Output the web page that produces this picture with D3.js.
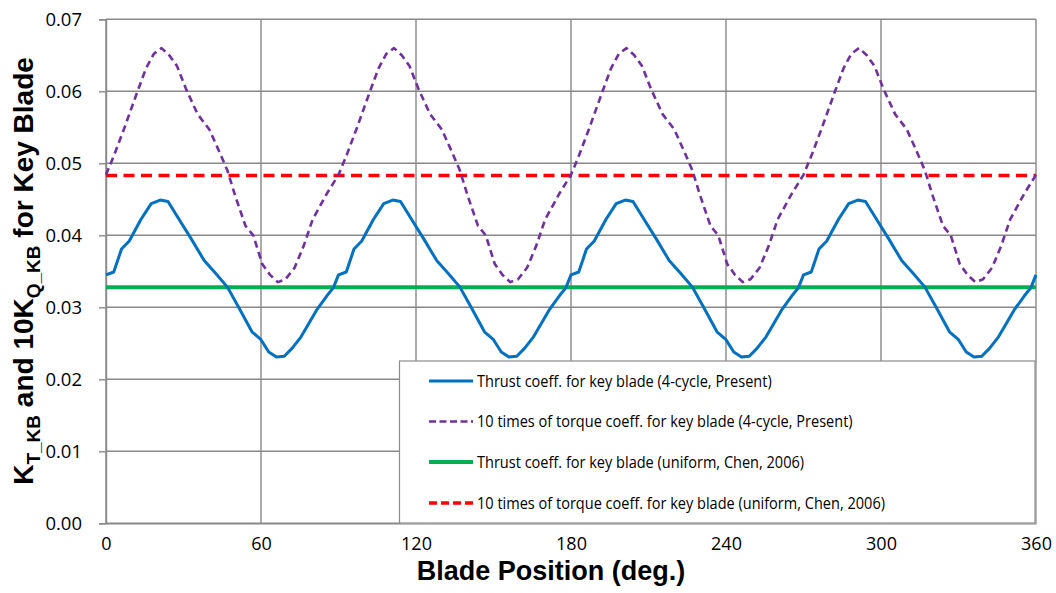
<!DOCTYPE html>
<html>
<head>
<meta charset="utf-8">
<script src="https://cdn.jsdelivr.net/npm/d3@7"></script>
<style>
  html, body { margin: 0; padding: 0; background: #fff; }
  svg { display: block; }
</style>
</head>
<body>
<svg id="chart" width="1056" height="593"></svg>
<script>
// Blade position (deg.) and thrust coefficient of the key blade, 4-cycle wake (present)
const thrustDeg = [
  0, 3, 6, 9, 13.5, 17.5, 21, 24, 28.5, 33, 38, 42.5, 47, 51.5, 56.5, 60, 63, 66, 69, 72, 75.5, 81.5, 85.5, 88,
  90, 93, 96, 99, 103.5, 107.5, 111, 114, 118.5, 123, 128, 132.5, 137, 141.5, 146.5, 150, 153, 156, 159, 162, 165.5, 171.5, 175.5, 178,
  180, 183, 186, 189, 193.5, 197.5, 201, 204, 208.5, 213, 218, 222.5, 227, 231.5, 236.5, 240, 243, 246, 249, 252, 255.5, 261.5, 265.5, 268,
  270, 273, 276, 279, 283.5, 287.5, 291, 294, 298.5, 303, 308, 312.5, 317, 321.5, 326.5, 330, 333, 336, 339, 342, 345.5, 351.5, 355.5, 358,
  360
];
const thrustKT = [
  0.0345, 0.0349, 0.0381, 0.0392, 0.0422, 0.0444, 0.0449, 0.0447, 0.0421, 0.0395, 0.0365, 0.0347, 0.0328, 0.0299, 0.0266, 0.0255, 0.0238, 0.0231, 0.0232, 0.0243, 0.0259, 0.0296, 0.0316, 0.0327,
  0.0345, 0.0349, 0.0381, 0.0392, 0.0422, 0.0444, 0.0449, 0.0447, 0.0421, 0.0395, 0.0365, 0.0347, 0.0328, 0.0299, 0.0266, 0.0255, 0.0238, 0.0231, 0.0232, 0.0243, 0.0259, 0.0296, 0.0316, 0.0327,
  0.0345, 0.0349, 0.0381, 0.0392, 0.0422, 0.0444, 0.0449, 0.0447, 0.0421, 0.0395, 0.0365, 0.0347, 0.0328, 0.0299, 0.0266, 0.0255, 0.0238, 0.0231, 0.0232, 0.0243, 0.0259, 0.0296, 0.0316, 0.0327,
  0.0345, 0.0349, 0.0381, 0.0392, 0.0422, 0.0444, 0.0449, 0.0447, 0.0421, 0.0395, 0.0365, 0.0347, 0.0328, 0.0299, 0.0266, 0.0255, 0.0238, 0.0231, 0.0232, 0.0243, 0.0259, 0.0296, 0.0316, 0.0327,
  0.0345
];

// Blade position (deg.) and 10 x torque coefficient of the key blade, 4-cycle wake (present)
const torqueDeg = [
  0, 3, 7, 12, 15.5, 18.5, 21.5, 24.5, 27.5, 31, 35.5, 40, 44, 47, 50, 54, 57, 60.5, 63.5, 66.5, 69.5, 73, 76.5, 80, 85.5,
  90, 93, 97, 102, 105.5, 108.5, 111.5, 114.5, 117.5, 121, 125.5, 130, 134, 137, 140, 144, 147, 150.5, 153.5, 156.5, 159.5, 163, 166.5, 170, 175.5,
  180, 183, 187, 192, 195.5, 198.5, 201.5, 204.5, 207.5, 211, 215.5, 220, 224, 227, 230, 234, 237, 240.5, 243.5, 246.5, 249.5, 253, 256.5, 260, 265.5,
  270, 273, 277, 282, 285.5, 288.5, 291.5, 294.5, 297.5, 301, 305.5, 310, 314, 317, 320, 324, 327, 330.5, 333.5, 336.5, 339.5, 343, 346.5, 350, 355.5,
  360
];
const torque10KQ = [
  0.0484, 0.0510, 0.0548, 0.0598, 0.0632, 0.0652, 0.0660, 0.0650, 0.0635, 0.0603, 0.0568, 0.0547, 0.0515, 0.0490, 0.0455, 0.0413, 0.0400, 0.0360, 0.0345, 0.0335, 0.0339, 0.0355, 0.0385, 0.0422, 0.0458,
  0.0484, 0.0510, 0.0548, 0.0598, 0.0632, 0.0652, 0.0660, 0.0650, 0.0635, 0.0603, 0.0568, 0.0547, 0.0515, 0.0490, 0.0455, 0.0413, 0.0400, 0.0360, 0.0345, 0.0335, 0.0339, 0.0355, 0.0385, 0.0422, 0.0458,
  0.0484, 0.0510, 0.0548, 0.0598, 0.0632, 0.0652, 0.0660, 0.0650, 0.0635, 0.0603, 0.0568, 0.0547, 0.0515, 0.0490, 0.0455, 0.0413, 0.0400, 0.0360, 0.0345, 0.0335, 0.0339, 0.0355, 0.0385, 0.0422, 0.0458,
  0.0484, 0.0510, 0.0548, 0.0598, 0.0632, 0.0652, 0.0660, 0.0650, 0.0635, 0.0603, 0.0568, 0.0547, 0.0515, 0.0490, 0.0455, 0.0413, 0.0400, 0.0360, 0.0345, 0.0335, 0.0339, 0.0355, 0.0385, 0.0422, 0.0458,
  0.0484
];

// Uniform-wake results (Chen, 2006): constant over the revolution
const uniformDeg = [0, 360];
const uniformKT = [0.0328, 0.0328];
const uniform10KQ = [0.0483, 0.0483];

// Axis ticks
const xTicks = [0, 60, 120, 180, 240, 300, 360];
const yTicks = [0, 0.01, 0.02, 0.03, 0.04, 0.05, 0.06, 0.07];

const seriesNames = [
  "Thrust coeff. for key blade (4-cycle, Present)",
  "10 times of torque coeff. for key blade (4-cycle, Present)",
  "Thrust coeff. for key blade (uniform, Chen, 2006)",
  "10 times of torque coeff. for key blade (uniform, Chen, 2006)"
];

// ---- drawing ----
const svg = d3.select("#chart");
const plot = { left: 106, right: 1036, top: 19.3, bottom: 523.3 };

const x = d3.scaleLinear().domain([0, 360]).range([plot.left, plot.right]);
const y = d3.scaleLinear().domain([0, 0.07]).range([plot.bottom, plot.top]);

const gridColor = "#888888";
const tickFont = "'Open Sans', 'Noto Sans', sans-serif";

// gridlines
svg.append("g")
  .selectAll("line.h")
  .data(yTicks)
  .join("line")
  .attr("x1", plot.left).attr("x2", plot.right)
  .attr("y1", d => y(d)).attr("y2", d => y(d))
  .attr("stroke", gridColor).attr("stroke-width", 1.4);

svg.append("g")
  .selectAll("line.v")
  .data(xTicks)
  .join("line")
  .attr("y1", plot.top).attr("y2", plot.bottom)
  .attr("x1", d => x(d)).attr("x2", d => x(d))
  .attr("stroke", gridColor).attr("stroke-width", 1.4);

// y axis
const yAxis = svg.append("g")
  .attr("transform", `translate(${plot.left},0)`)
  .call(d3.axisLeft(y).tickValues(yTicks).tickFormat(d3.format(".2f")).tickSize(7).tickPadding(17));
yAxis.select(".domain").attr("stroke", gridColor).attr("stroke-width", 1.4);
yAxis.selectAll(".tick line").attr("stroke", gridColor).attr("stroke-width", 1.4);
yAxis.selectAll(".tick text")
  .attr("fill", "#000")
  .style("font-family", tickFont)
  .style("font-size", "18.5px");

// x axis
const xAxis = svg.append("g")
  .attr("transform", `translate(0,${plot.bottom})`)
  .call(d3.axisBottom(x).tickValues(xTicks).tickFormat(d3.format("d")).tickSize(0).tickPadding(14));
xAxis.select(".domain").attr("stroke", gridColor).attr("stroke-width", 1.4);
xAxis.selectAll(".tick text")
  .attr("fill", "#000")
  .style("font-family", tickFont)
  .style("font-size", "18px");

// series lines
const line = d3.line().x(d => x(d[0])).y(d => y(d[1]));
const zipPts = (a, b) => a.map((v, i) => [v, b[i]]);

const styles = [
  { color: "#0070C0", width: 3, dash: null, pts: zipPts(thrustDeg, thrustKT) },
  { color: "#7030A0", width: 2.6, dash: "7,4.5", pts: zipPts(torqueDeg, torque10KQ) },
  { color: "#00B050", width: 4, dash: null, pts: zipPts(uniformDeg, uniformKT) },
  { color: "#FF0000", width: 3.6, dash: "11,6.5", pts: zipPts(uniformDeg, uniform10KQ) }
];

const drawOrder = [2, 3, 1, 0];
drawOrder.forEach(i => {
  const s = styles[i];
  svg.append("path")
    .datum(s.pts)
    .attr("fill", "none")
    .attr("stroke", s.color)
    .attr("stroke-width", s.width)
    .attr("stroke-linejoin", "round")
    .attr("stroke-dasharray", s.dash)
    .attr("d", line);
});

// legend
const lg = { x: 399.5, y: 361, w: 635.5, h: 162 };
const legend = svg.append("g");
legend.append("rect")
  .attr("x", lg.x + 1.5).attr("y", lg.y + 1.5)
  .attr("width", lg.w).attr("height", lg.h)
  .attr("fill", "#bdbdbd");
legend.append("rect")
  .attr("x", lg.x).attr("y", lg.y)
  .attr("width", lg.w).attr("height", lg.h)
  .attr("fill", "#fff")
  .attr("stroke", "#8c8c8c").attr("stroke-width", 1.2);

const rowY = [381, 421.5, 462, 503];
const rows = legend.selectAll("g.row")
  .data(seriesNames)
  .join("g")
  .attr("transform", (d, i) => `translate(0,${rowY[i]})`);

rows.append("line")
  .attr("x1", 429).attr("x2", 473)
  .attr("y1", 0).attr("y2", 0)
  .attr("stroke", (d, i) => styles[i].color)
  .attr("stroke-width", (d, i) => styles[i].width)
  .attr("stroke-dasharray", (d, i) => i === 1 ? "7,3.5" : (i === 3 ? "8,4" : null));

const legendText = rows.append("text")
  .attr("x", 477).attr("y", 0)
  .attr("dy", "0.35em")
  .style("font-family", tickFont)
  .style("font-size", "17px")
  .attr("fill", "#000")
  .text(d => d);

// Open Sans runs wider than the narrow face the legend is set in; condense horizontally
const widest = d3.max(legendText.nodes(), n => n.getComputedTextLength());
const condense = 408 / widest;
legendText.each(function () {
  const w = this.getComputedTextLength();
  d3.select(this).attr("textLength", w * condense).attr("lengthAdjust", "spacingAndGlyphs");
});

// axis titles
const titleFont = "'Liberation Sans', Arial, sans-serif";
svg.append("text")
  .attr("x", 551).attr("y", 580)
  .attr("text-anchor", "middle")
  .style("font-family", titleFont)
  .style("font-weight", "bold")
  .style("font-size", "27px")
  .text("Blade Position (deg.)");

const yTitle = svg.append("text")
  .attr("transform", "translate(33,271) rotate(-90)")
  .attr("text-anchor", "middle")
  .style("font-family", titleFont)
  .style("font-weight", "bold")
  .style("font-size", "28px");
yTitle.append("tspan").text("K");
yTitle.append("tspan").attr("dy", 7).style("font-size", "19px").text("T_KB");
yTitle.append("tspan").attr("dy", -7).text(" and 10K");
yTitle.append("tspan").attr("dy", 7).style("font-size", "19px").text("Q_KB");
yTitle.append("tspan").attr("dy", -7).text(" for Key Blade");
</script>
</body>
</html>
